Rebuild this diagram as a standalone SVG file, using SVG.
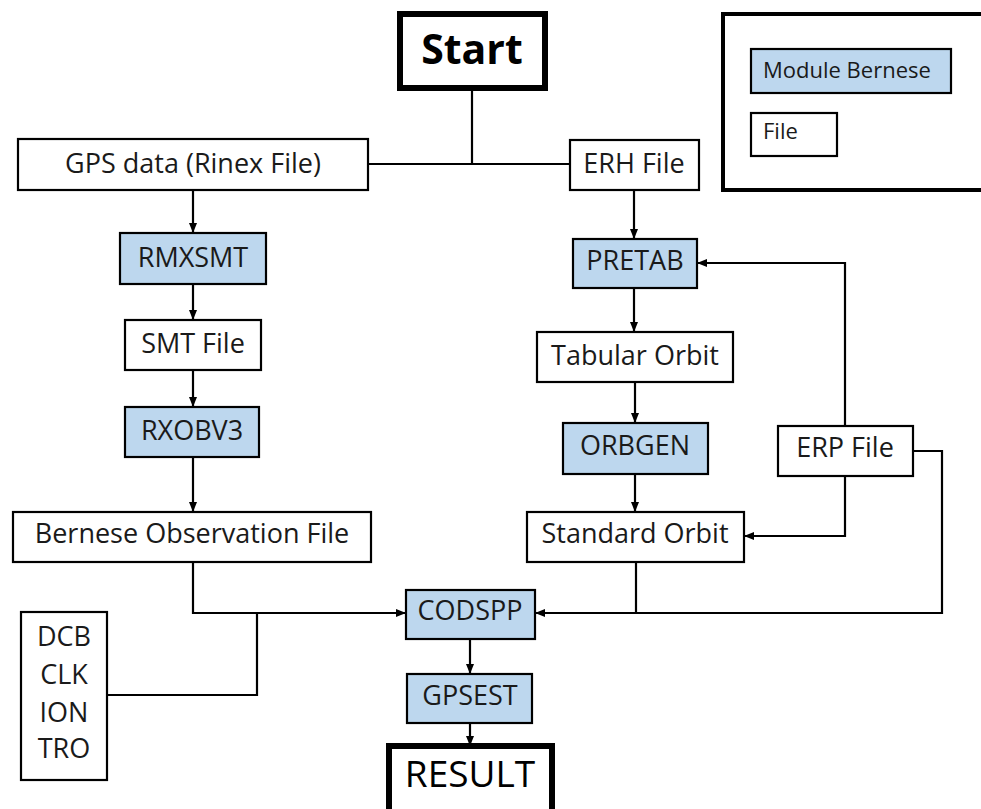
<svg xmlns="http://www.w3.org/2000/svg" width="981" height="809" viewBox="0 0 981 809">
  <style>
    .box { fill: #ffffff; stroke: #000000; stroke-width: 2.2; }
    .mod { fill: #bdd7ee; stroke: #000000; stroke-width: 2.2; }
    .thick { fill: #ffffff; stroke: #000000; stroke-width: 6; }
    .lbl { font-family: "Open Sans", "Liberation Sans", sans-serif; font-size: 27px; fill: #1a1a1a; text-anchor: middle; }
    .leg { font-family: "Open Sans", "Liberation Sans", sans-serif; font-size: 22px; fill: #1a1a1a; }
    .wire { fill: none; stroke: #000000; stroke-width: 2.2; }
    .arr { marker-end: url(#head); }
  </style>
  <defs>
    <marker id="head" markerUnits="userSpaceOnUse" markerWidth="10" markerHeight="10" viewBox="0 0 10 10" refX="10" refY="5" orient="auto">
      <path d="M0,1 L10,5 L0,9 Z" fill="#000000"/>
    </marker>
  </defs>

  <rect x="0" y="0" width="981" height="809" fill="#ffffff"/>

  <!-- connectors -->
  <g id="connectors">
    <path class="wire" d="M472,88 V164"/>
    <path class="wire" d="M368,164 H570"/>
    <path class="wire arr" d="M193,190 V233"/>
    <path class="wire arr" d="M193,284 V320"/>
    <path class="wire arr" d="M193,370 V407"/>
    <path class="wire arr" d="M193,457 V512"/>
    <path class="wire arr" d="M634,190 V239"/>
    <path class="wire arr" d="M634,288 V332"/>
    <path class="wire arr" d="M635,382 V423"/>
    <path class="wire arr" d="M635,474 V512"/>
    <path class="wire arr" d="M845,426 V263 H697"/>
    <path class="wire arr" d="M845,476 V536 H744"/>
    <path class="wire arr" d="M913,451 H942 V613 H535"/>
    <path class="wire" d="M636,562 V613"/>
    <path class="wire arr" d="M193,562 V613 H406"/>
    <path class="wire" d="M107,695 H257 V613"/>
    <path class="wire arr" d="M470,639 V674"/>
    <path class="wire arr" d="M470,723 V746"/>
  </g>

  <!-- legend -->
  <g id="legend">
    <rect x="723" y="14" width="280" height="176" fill="#ffffff" stroke="#000000" stroke-width="4"/>
    <rect class="mod" x="751" y="49" width="200" height="44"/>
    <text class="leg" x="763" y="78">Module Bernese</text>
    <rect class="box" x="751" y="113" width="86" height="43"/>
    <text class="leg" x="763" y="139">File</text>
  </g>

  <g id="start">
    <rect class="thick" x="400" y="14" width="145" height="74" stroke-width="7"/>
    <text x="472" y="64" font-family="'Open Sans', 'Liberation Sans', sans-serif" font-size="41" font-weight="bold" fill="#000000" text-anchor="middle">Start</text>
  </g>

  <g id="gps-data">
    <rect class="box" x="18" y="139" width="350" height="51"/>
    <text class="lbl" x="193" y="173">GPS data (Rinex File)</text>
  </g>

  <g id="erh-file">
    <rect class="box" x="570" y="140" width="129" height="50"/>
    <text class="lbl" x="634" y="173">ERH File</text>
  </g>

  <g id="rmxsmt">
    <rect class="mod" x="120" y="233" width="146" height="51"/>
    <text class="lbl" x="193" y="267">RMXSMT</text>
  </g>

  <g id="pretab">
    <rect class="mod" x="573" y="239" width="124" height="49"/>
    <text class="lbl" x="635" y="270">PRETAB</text>
  </g>

  <g id="smt-file">
    <rect class="box" x="125" y="320" width="136" height="50"/>
    <text class="lbl" x="193" y="353">SMT File</text>
  </g>

  <g id="tabular-orbit">
    <rect class="box" x="537" y="332" width="196" height="50"/>
    <text class="lbl" x="635" y="365">Tabular Orbit</text>
  </g>

  <g id="rxobv3">
    <rect class="mod" x="125" y="407" width="134" height="50"/>
    <text class="lbl" x="192" y="440">RXOBV3</text>
  </g>

  <g id="orbgen">
    <rect class="mod" x="563" y="423" width="145" height="51"/>
    <text class="lbl" x="635" y="455">ORBGEN</text>
  </g>

  <g id="erp-file">
    <rect class="box" x="778" y="426" width="135" height="50"/>
    <text class="lbl" x="845" y="457">ERP File</text>
  </g>

  <g id="bernese-observation-file">
    <rect class="box" x="13" y="512" width="358" height="50"/>
    <text class="lbl" x="192" y="543">Bernese Observation File</text>
  </g>

  <g id="standard-orbit">
    <rect class="box" x="527" y="512" width="217" height="50"/>
    <text class="lbl" x="635" y="543">Standard Orbit</text>
  </g>

  <g id="codspp">
    <rect class="mod" x="406" y="590" width="129" height="49"/>
    <text class="lbl" x="470" y="620">CODSPP</text>
  </g>

  <g id="gpsest">
    <rect class="mod" x="407" y="674" width="125" height="49"/>
    <text class="lbl" x="470" y="705">GPSEST</text>
  </g>

  <g id="corrections">
    <rect class="box" x="21" y="612" width="86" height="168"/>
    <text class="lbl" x="64" y="646">DCB</text>
    <text class="lbl" x="64" y="684">CLK</text>
    <text class="lbl" x="64" y="722">ION</text>
    <text class="lbl" x="64" y="758">TRO</text>
  </g>

  <g id="result">
    <rect class="thick" x="389" y="746" width="163" height="90"/>
    <text x="470" y="787" font-family="'Open Sans', 'Liberation Sans', sans-serif" font-size="37" fill="#000000" text-anchor="middle">RESULT</text>
  </g>
</svg>
